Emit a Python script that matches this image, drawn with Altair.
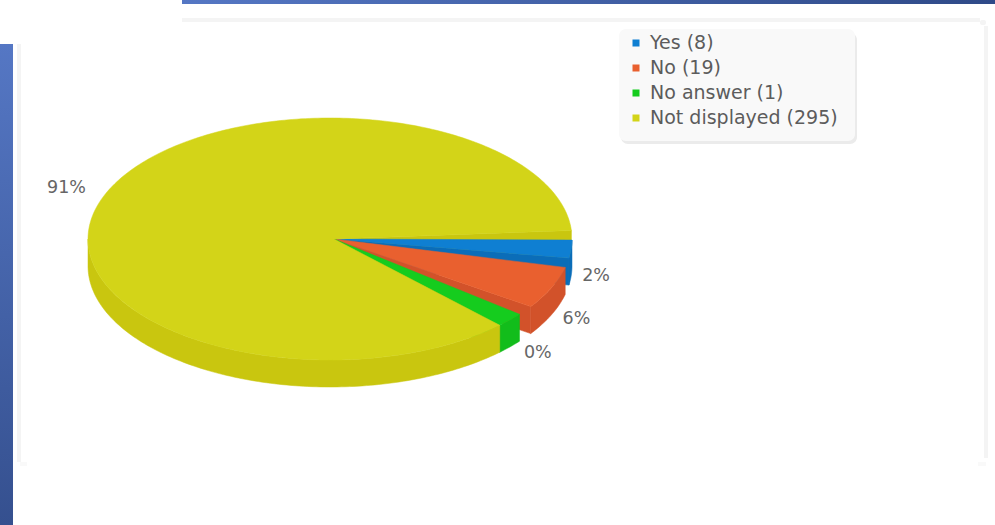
import math
import altair as alt

# Survey answers
categories = ["Yes", "No", "No answer", "Not displayed"]
counts = [8, 19, 1, 295]
percent_labels = ["2%", "6%", "0%", "91%"]

top_colors = ["#0f7fd2", "#e9602f", "#15cc1e", "#d3d418"]
wall_colors = ["#0b6db8", "#d2522a", "#12bd1b", "#c9c60f"]

# Tilted pie geometry, in pixels
CX, CY = 330, 239
APEX_X, APEX_Y = 334, 239
RX, RY = 242, 121
DEPTH = 27
START = 0.5        # angle of the first slice's leading edge
GAP = 4.5          # degrees left open after each ordinary slice
MIN_SWEEP = 7.0    # tiny slices are widened so they stay visible, and take no gap


def rim(deg, drop=0.0):
    a = math.radians(deg)
    return [CX + RX * math.cos(a), CY + RY * math.sin(a) + drop]


def arc(a0, a1, drop=0.0):
    n = max(2, int(abs(a1 - a0)) + 2)
    return [rim(a0 + (a1 - a0) * i / (n - 1), drop) for i in range(n)]


def feature(points, fill):
    ring = points + [points[0]]
    return {
        "type": "Feature",
        "properties": {"fill": fill},
        "geometry": {"type": "Polygon", "coordinates": [ring]},
    }


# Start and end angle of every slice, clockwise from three o'clock
total = sum(counts)
is_tiny = [c / total * 360 < MIN_SWEEP for c in counts]
available = 360 - GAP * (len(counts) - sum(is_tiny))
sweeps = [max(c / total * available, MIN_SWEEP) for c in counts]
sweeps[-1] -= sum(sweeps) - available
spans = []
angle = START
for s, tiny in zip(sweeps, is_tiny):
    spans.append((angle, angle + s))
    angle += s + (0 if tiny else GAP)

features = []
# The far cut face of the last slice lies behind everything else
last_end = spans[3][1]
features.append(feature([[APEX_X, APEX_Y], rim(last_end), rim(last_end, DEPTH), [APEX_X, APEX_Y + DEPTH]], wall_colors[3]))

for i, (a0, a1) in enumerate(spans):
    # cut face at the slice's trailing edge (small slices only, the big one is done above)
    if i < 3:
        features.append(feature([[APEX_X, APEX_Y], rim(a1), rim(a1, DEPTH), [APEX_X, APEX_Y + DEPTH]], wall_colors[i]))
    # outer wall: only the part on the front half of the ellipse shows
    w0, w1 = max(a0, 0), min(a1, 180)
    if w1 > w0:
        features.append(feature(arc(w0, w1) + arc(w1, w0, DEPTH), wall_colors[i]))
    # top face
    features.append(feature([[APEX_X, APEX_Y]] + arc(a0, a1), top_colors[i]))

pie = (
    alt.Chart(alt.InlineData(
        values={"type": "FeatureCollection", "features": features},
        format=alt.DataFormat(property="features", type="json"),
    ))
    .mark_geoshape(strokeWidth=0.5)
    .encode(
        color=alt.Color("properties.fill:N", scale=None),
        stroke=alt.Stroke("properties.fill:N", scale=None),
    )
    .project(type="identity", scale=1, translate=[0, 0])
)

# Percent labels sit just outside the rim, below the wall on the front half,
# with a small nudge so neighbouring labels keep clear of each other
label_nudges = [(-1, -1), (0, -1), (5, -2), (1, -4)]
label_rows = []
for (a0, a1), text, (nx, ny) in zip(spans, percent_labels, label_nudges):
    mid = math.radians((a0 + a1) / 2)
    s = math.sin(mid)
    c = math.cos(mid)
    label_rows.append({
        "x": CX + (RX + 12) * c + (7 * len(text) if c > 0 else -9 * len(text)) + nx,
        "y": CY + (RY + 12) * s + (DEPTH if s > 0 else 0) + ny,
        "text": text,
    })

pct = (
    alt.Chart(alt.Data(values=label_rows))
    .mark_text(font="DejaVu Sans", fontSize=17.5, color="#666666", align="center", baseline="middle")
    .encode(x=alt.X("x:Q", scale=None), y=alt.Y("y:Q", scale=None), text="text:N")
)


def box(x, x2, y, y2, **kw):
    return alt.Chart(alt.Data(values=[{}])).mark_rect(**kw).encode(
        x=alt.value(x), x2=alt.value(x2), y=alt.value(y), y2=alt.value(y2))


top_band = box(182, 995, 0, 4, fill=alt.Gradient(
    gradient="linear", x1=0, y1=0, x2=1, y2=0,
    stops=[alt.GradientStop(color="#5577c4", offset=0), alt.GradientStop(color="#2f4a88", offset=1)]))
left_band = box(0, 13, 44, 525, fill=alt.Gradient(
    gradient="linear", x1=0, y1=0, x2=0, y2=1,
    stops=[alt.GradientStop(color="#5577c4", offset=0), alt.GradientStop(color="#35508f", offset=1)]))

# Faint frame around the plot: three open edges and rounded lower corners
frame_color = "#f4f4f4"
frame = [
    box(17, 21, 44, 462, fill=frame_color),
    box(182, 980, 18, 22, fill=frame_color),
    box(984, 988, 26, 458, fill=frame_color),
    box(980, 986, 20, 25, fill=frame_color, cornerRadius=2),
    box(20, 27, 462, 466, fill="#f9f9f9"),
    box(978, 986, 462, 466, fill="#f9f9f9"),
]

# Legend panel with a soft drop edge
legend_shadow = box(621, 857, 33, 144, fill="#ebebeb", cornerRadius=7)
legend_panel = box(619, 855, 29, 141, fill="#f9f9f9", cornerRadius=7)

legend_rows = [
    {"label": f"{name} ({n})", "swatch": col, "y": 43 + 25 * i}
    for i, (name, n, col) in enumerate(zip(categories, counts, top_colors))
]
legend_swatches = (
    alt.Chart(alt.Data(values=legend_rows))
    .mark_square(size=49, opacity=1, filled=True)
    .encode(x=alt.value(636), y=alt.Y("y:Q", scale=None), color=alt.Color("swatch:N", scale=None))
)
legend_text = (
    alt.Chart(alt.Data(values=legend_rows))
    .mark_text(font="DejaVu Sans", fontSize=19, color="#5c5c5c", align="left", baseline="middle")
    .encode(x=alt.value(650), y=alt.Y("y:Q", scale=None), text="label:N")
)

chart = alt.layer(
    top_band, left_band, *frame, legend_shadow, legend_panel,
    pie, pct, legend_swatches, legend_text,
).properties(
    width=995, height=525, padding=0,
    autosize=alt.AutoSizeParams(type="none"),
    background="#ffffff",
).configure_view(stroke=None).configure_axis(disable=True)

chart.save("out.html", embed_options={"renderer": "svg", "actions": False})
